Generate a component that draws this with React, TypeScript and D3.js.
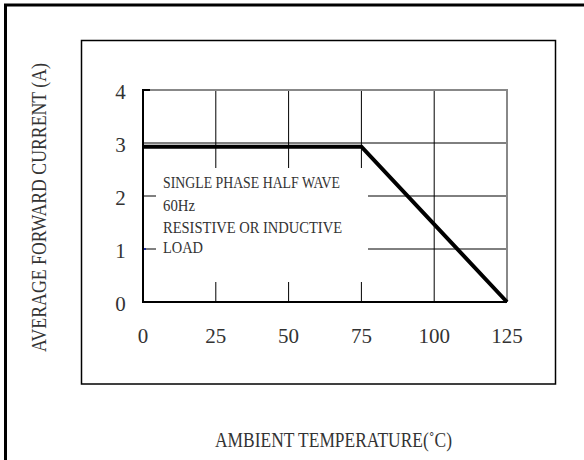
import React from "react";
import * as d3 from "d3";

const xTicks = [0, 25, 50, 75, 100, 125];
const yTicks = [0, 1, 2, 3, 4];
const curveTemp = [0, 75, 125];
const curveCurrent = [2.93, 2.93, 0];
const noteLines = ["SINGLE PHASE HALF WAVE", "60Hz", "RESISTIVE OR INDUCTIVE", "LOAD"];
const noteWidths = [177, 32, 179, 40];
const xTitle = "AMBIENT TEMPERATURE(˚C)";
const yTitle = "AVERAGE FORWARD CURRENT (A)";

export default function App() {
  const W = 584, H = 460;
  const x = d3.scaleLinear().domain([0, 125]).range([143, 507]);
  const y = d3.scaleLinear().domain([0, 4]).range([302, 90]);
  const pts: [number, number][] = curveTemp.map((t, i) => [t, curveCurrent[i]]);
  const line = d3.line<[number, number]>().x(d => x(d[0])).y(d => y(d[1]));
  const font = "'Liberation Serif', 'DejaVu Serif', serif";
  const gridY = yTicks.filter(v => v > 0 && v < 4);
  const gridX = xTicks.filter(v => v > 0 && v < 125);
  const noteBase = [188, 211, 233, 253];
  const txt = "#333";
  return (
    <svg width={W} height={H} style={{ position: "absolute", left: 0, top: 0, background: "#fff" }} fontFamily={font}>
      <rect x={0} y={0} width={W} height={H} fill="#fff" />
      <rect x={5.5} y={5} width={W + 20} height={H + 20} fill="none" stroke="#000" strokeWidth={3} />
      <rect x={81.5} y={40.5} width={474} height={343.5} fill="none" stroke="#000" strokeWidth={1.5} />
      {gridY.map(v => (
        <line key={"gy" + v} x1={x(0)} x2={x(125)} y1={y(v)} y2={y(v)} stroke="#000" strokeWidth={1} />
      ))}
      {gridX.map(v => (
        <line key={"gx" + v} x1={x(v)} x2={x(v)} y1={y(4)} y2={y(0)} stroke="#000" strokeWidth={1} />
      ))}
      <rect x={156} y={168} width={212} height={114} fill="#fff" />
      <line x1={x(0)} x2={x(125)} y1={y(4)} y2={y(4)} stroke="#888" strokeWidth={2} />
      <line x1={x(125)} x2={x(125)} y1={y(4) - 1} y2={y(0)} stroke="#888" strokeWidth={2} />
      <line x1={x(0)} x2={x(0)} y1={y(4) - 1} y2={y(0) + 1} stroke="#000" strokeWidth={2} />
      <line x1={x(0) - 1} x2={x(125)} y1={y(0)} y2={y(0)} stroke="#000" strokeWidth={2} />
      <line x1={x(0)} x2={x(0) + 7} y1={y(4)} y2={y(4)} stroke="#000" strokeWidth={2} />
      <rect x={x(0) + 1} y={y(1) - 1} width={2} height={2} fill="#2030a0" />
      <path d={line(pts) || ""} fill="none" stroke="#000" strokeWidth={4} strokeLinejoin="miter" />
      {noteLines.map((t, i) => (
        <text key={t} x={163} y={noteBase[i]} fontSize={16} textLength={noteWidths[i]} lengthAdjust="spacingAndGlyphs" fill={txt}>
          {t}
        </text>
      ))}
      {xTicks.map(v => (
        <text key={"xt" + v} x={x(v)} y={343} fontSize={21} textAnchor="middle" fill={txt}>{v}</text>
      ))}
      {yTicks.map(v => (
        <text key={"yt" + v} x={120.5} y={y(v) + 9} fontSize={21} textAnchor="middle" fill={txt}>{v}</text>
      ))}
      <text x={215} y={447} fontSize={20} textLength={237} lengthAdjust="spacingAndGlyphs" fill={txt}>{xTitle}</text>
      <text transform="translate(46,352) rotate(-90)" x={0} y={0} fontSize={20} textLength={289} lengthAdjust="spacingAndGlyphs" fill={txt}>{yTitle}</text>
    </svg>
  );
}
